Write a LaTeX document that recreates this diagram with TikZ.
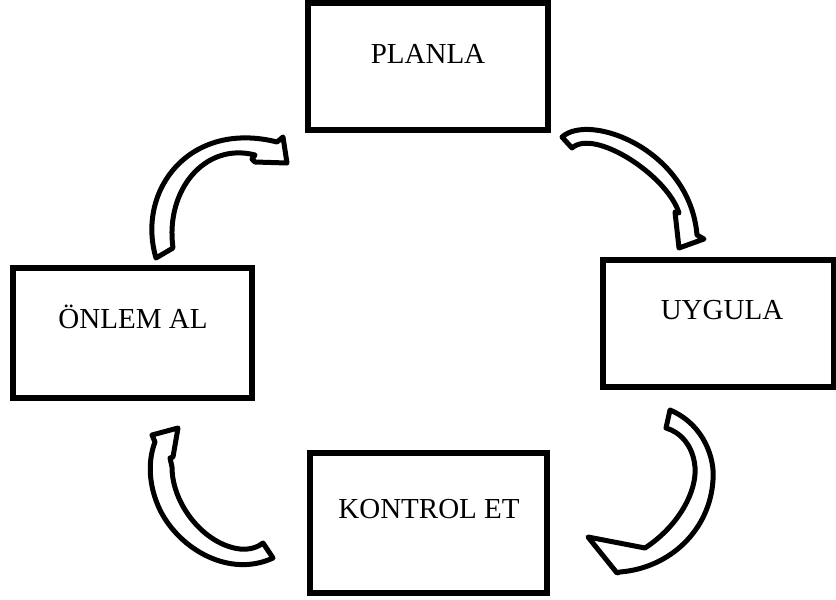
\documentclass[tikz,border=0pt]{standalone}
\usepackage{fontspec}
\setmainfont{Liberation Serif}
\begin{document}
\begin{tikzpicture}[x=1pt,y=-1pt,
  box/.style={draw=black, line width=5.5pt, fill=white, rectangle, inner sep=0pt},
  lbl/.style={anchor=base, inner sep=0pt, font=\fontsize{29}{34}\selectfont},
  blockarrow/.style={draw=black, line width=5pt, line join=round, fill=white}]
\useasboundingbox (0,0) rectangle (836,600);

% boxes
\node[box, minimum width=240pt, minimum height=127pt] (planla) at (428,66.5) {};
\node[box, minimum width=231pt, minimum height=127pt] (uygula) at (718.5,323.5) {};
\node[box, minimum width=237pt, minimum height=140pt] (kontrol) at (428.5,523) {};
\node[box, minimum width=239pt, minimum height=130pt] (onlem) at (132.5,333) {};

% labels
\node[lbl] (tplan) at (428,63) {PLANLA};
\node[lbl] (tuyg) at (722,319) {UYGULA};
\node[lbl] (tkon) at (429,518) {KONTROL ET};
\node[lbl] (tonl) at (133,328) {ÖNLEM AL};

% arrow: ONLEM AL -> PLANLA
\draw[blockarrow] (156,258) .. controls (136,190) and (190,120) .. (277,142)
  -- (283,137) -- (287,163) -- (255,162) -- (252,159) -- (255,155)
  .. controls (205,142) and (165,190) .. (173,248) -- cycle;

% arrow: PLANLA -> UYGULA
\draw[blockarrow] (562,137) .. controls (590,112) and (690,150) .. (697,235)
  -- (704,239) -- (679,248) -- (675,212) -- (679,213)
  .. controls (667,175) and (594,128) .. (572,148) -- cycle;

% arrow: UYGULA -> KONTROL ET
\draw[blockarrow] (670,410) .. controls (705,425) and (715,460) .. (713,480)
  .. controls (710,530) and (670,568) .. (620,572)
  -- (617,573) -- (588,537) -- (645,548)
  .. controls (680,525) and (697,490) .. (695,467)
  .. controls (693,445) and (680,432) .. (666,428) -- cycle;

% arrow: KONTROL ET -> ONLEM AL
\draw[blockarrow] (273,558) .. controls (230,578) and (180,550) .. (160,510)
  .. controls (148,485) and (148,460) .. (155,442)
  -- (152,435) -- (178,428) -- (173,457) -- (170,458) -- (172,467)
  .. controls (172,505) and (205,545) .. (240,549)
  .. controls (250,550) and (258,547) .. (263,543) -- cycle;
\end{tikzpicture}
\end{document}
